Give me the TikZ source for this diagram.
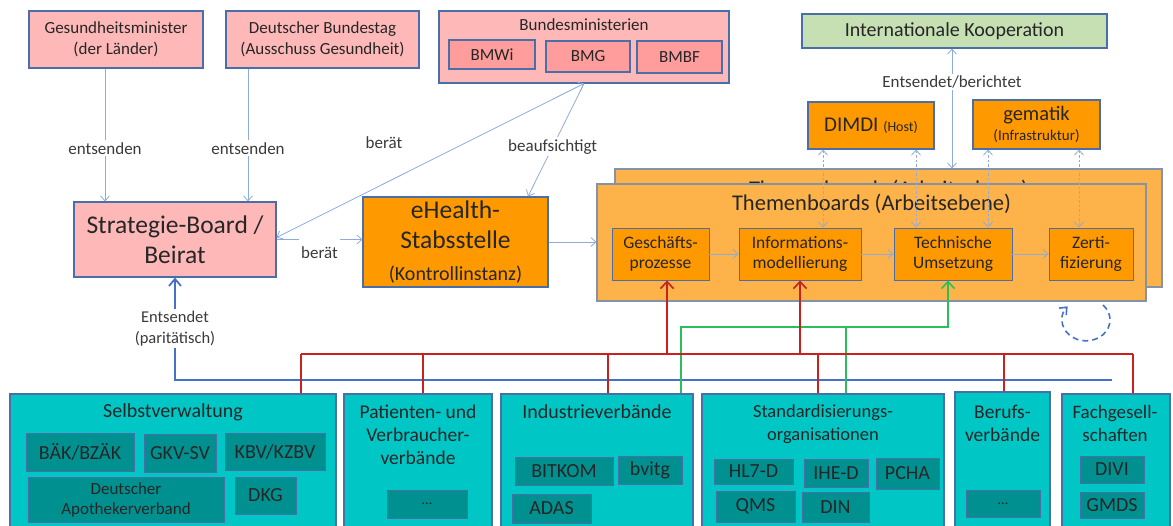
\documentclass[tikz,border=0pt]{standalone}
\usepackage{fontspec}
\setmainfont{Carlito}
\usetikzlibrary{arrows.meta}

\definecolor{rosa}{HTML}{FFB8B8}
\definecolor{rosadunkel}{HTML}{FF9C9C}
\definecolor{rahmen}{HTML}{4A6EA8}
\definecolor{orangeA}{HTML}{FF9900}
\definecolor{tbfill}{HTML}{FDB34A}
\definecolor{tbrahmen}{HTML}{8593A8}
\definecolor{gruenfill}{HTML}{C6E0B4}
\definecolor{tuerkis}{HTML}{00C6C6}
\definecolor{tuerkisdunkel}{HTML}{009090}
\definecolor{linie}{HTML}{8FAADC}
\definecolor{blaulinie}{HTML}{4472C4}
\definecolor{rotlinie}{HTML}{C9211E}
\definecolor{gruenlinie}{HTML}{2DBE5C}
\definecolor{schrift}{HTML}{262626}
\definecolor{grauschrift}{HTML}{3A3A3A}

\tikzset{
  fs/.style 2 args={font=\fontsize{#1}{#2}\selectfont},
  gr/.style 2 args={minimum width=#1, minimum height=#2},
  kasten/.style={draw=rahmen, line width=1.1pt, align=center, inner sep=0pt, text=schrift},
  rosakasten/.style={kasten, fill=rosa},
  rosainnen/.style={kasten, fill=rosadunkel, fs={17}{20}},
  orakasten/.style={kasten, fill=orangeA},
  tbkasten/.style={kasten, draw=tbrahmen, fill=tbfill},
  tuerkiskasten/.style={kasten, fill=tuerkis},
  tuerkisinnen/.style={kasten, line width=0.9pt, fill=tuerkisdunkel, fs={20}{23}},
  titel/.style={align=center, text=schrift, inner sep=1pt},
  lbl/.style={fill=white, text=grauschrift, fs={17}{21}, inner sep=2pt, align=center},
  duenn/.style={draw=linie, line width=0.8pt, >={Straight Barb[length=5pt,width=9pt]}},
  gestrichelt/.style={duenn, dash pattern=on 2.5pt off 2pt},
  dick/.style={draw=blaulinie, line width=1.8pt, >={Straight Barb[length=7pt,width=12pt]}},
  rot/.style={draw=rotlinie, line width=1.6pt, >={Straight Barb[length=7pt,width=13pt]}},
  gruen/.style={draw=gruenlinie, line width=1.6pt, >={Straight Barb[length=7pt,width=13pt]}},
  schleifenlinie/.style={draw=blaulinie, line width=1.6pt, dash pattern=on 6pt off 4pt, >={Straight Barb[length=6pt,width=10pt]}}
}

\begin{document}
\begin{tikzpicture}[x=1pt,y=-1pt]
\useasboundingbox (0,0) rectangle (1173,526);

% Bund und Laender
\node[rosakasten, gr={174}{57}, fs={17}{21}] (gesmin) at (116,39.5) {Gesundheitsminister\\(der Länder)};
\node[rosakasten, gr={193}{57}, fs={17}{21}] (bundestag) at (322.5,39.5) {Deutscher Bundestag\\(Ausschuss Gesundheit)};
\node[rosakasten, gr={290}{72}] (bmin) at (584,47) {};
\node[titel, fs={17}{20}] (bminT) at (584,25) {Bundesministerien};
\node[rosainnen, gr={86}{29}] (bmwi) at (492,54.5) {BMWi};
\node[rosainnen, gr={84}{31}] (bmg) at (588,56.5) {BMG};
\node[rosainnen, gr={85}{32}] (bmbf) at (679.5,57) {BMBF};

% international, DIMDI, gematik
\node[kasten, fill=gruenfill, gr={305}{34}, fs={20}{23}] (intkoop) at (954.5,31) {Internationale Kooperation};
\node[orakasten, gr={126}{47}, fs={21}{24}] (dimdi) at (871,125.5) {DIMDI {\fontsize{14}{16}\selectfont(Host)}};
\node[orakasten, gr={127}{49}, fs={20.5}{21}] (gematik) at (1036.5,124.5) {gematik\\[-1pt]{\fontsize{15}{17}\selectfont(Infrastruktur)}};

% Steuerung
\node[rosakasten, gr={202}{75}, fs={25.5}{30}] (strat) at (175,239.5) {Strategie-Board /\\Beirat};
\node[orakasten, gr={185}{90}, fs={25.5}{30}] (ehealth) at (455.5,242) {eHealth-\\Stabsstelle\\[2pt]{\fontsize{20}{22}\selectfont(Kontrollinstanz)}};

% Themenboards (zwei Ebenen)
\node[tbkasten, gr={547}{118}] (tbback) at (888.5,228) {};
\node[titel, fs={22.5}{26}] (tbbackT) at (888.5,190) {Themenboards (Arbeitsebene)};
\node[tbkasten, gr={549}{117}] (tbfront) at (871.5,242.5) {};
\node[titel, fs={22.5}{26}] (tbfrontT) at (871.5,204) {Themenboards (Arbeitsebene)};
\node[orakasten, line width=0.9pt, gr={97}{52}, fs={17.5}{20.5}] (geschaeft) at (660.5,254) {Geschäfts-\\prozesse};
\node[orakasten, line width=0.9pt, gr={122}{52}, fs={17.5}{20.5}] (infomod) at (800,254) {Informations-\\modellierung};
\node[orakasten, line width=0.9pt, gr={118}{52}, fs={17.5}{20.5}] (technik) at (953,254) {Technische\\Umsetzung};
\node[orakasten, line width=0.9pt, gr={84}{52}, fs={17.5}{20.5}] (zerti) at (1091,254) {Zerti-\\fizierung};

% Verbaende unten
\node[tuerkiskasten, gr={326}{134}] (selbst) at (173,461) {};
\node[titel, fs={20}{23}] (selbstT) at (173,412) {Selbstverwaltung};
\node[tuerkisinnen, gr={108}{38}] (baek) at (80,452) {BÄK/BZÄK};
\node[tuerkisinnen, gr={72}{38}] (gkv) at (180,453) {GKV-SV};
\node[tuerkisinnen, gr={100}{37}] (kbv) at (275,451.5) {KBV/KZBV};
\node[tuerkisinnen, gr={196}{45}, fs={17}{20}] (dav) at (126,499.5) {Deutscher\\Apothekerverband};
\node[tuerkisinnen, gr={61}{37}] (dkg) at (265.5,495.5) {DKG};

\node[tuerkiskasten, gr={148}{134}] (patient) at (418,461) {};
\node[titel, fs={19.5}{23}] (patientT) at (418,435) {Patienten- und\\Verbraucher-\\verbände};
\node[tuerkisinnen, gr={80}{28}, fs={14}{16}] (patientP) at (427,504) {...};

\node[tuerkiskasten, gr={192}{134}] (industrie) at (597,461) {};
\node[titel, fs={20}{23}] (industrieT) at (597,412) {Industrieverbände};
\node[tuerkisinnen, gr={98}{28}] (bitkom) at (564,471) {BITKOM};
\node[tuerkisinnen, gr={64}{28}] (bvitg) at (650,470) {bvitg};
\node[tuerkisinnen, gr={79}{29}] (adas) at (551.5,508.5) {ADAS};

\node[tuerkiskasten, gr={242}{134}] (standard) at (823,461) {};
\node[titel, fs={18.5}{23}] (standardT) at (823,424.5) {Standardisierungs-\\organisationen};
\node[tuerkisinnen, gr={79}{25}] (hl7) at (753.5,471.5) {HL7-D};
\node[tuerkisinnen, gr={64}{28}] (ihe) at (836,473) {IHE-D};
\node[tuerkisinnen, gr={63}{31}] (pcha) at (907.5,473.5) {PCHA};
\node[tuerkisinnen, gr={79}{31}] (qms) at (755.5,506.5) {QMS};
\node[tuerkisinnen, gr={67}{30}] (din) at (835.5,507) {DIN};

\node[tuerkiskasten, gr={95}{136}] (beruf) at (1002.5,460) {};
\node[titel, fs={19.5}{23}] (berufT) at (1002.5,423.5) {Berufs-\\verbände};
\node[tuerkisinnen, gr={74}{27}, fs={14}{16}] (berufP) at (1003,503.5) {...};

\node[tuerkiskasten, gr={108}{134}] (fach) at (1116,461) {};
\node[titel, fs={19}{23}] (fachT) at (1115,423.5) {Fachgesell-\\schaften};
\node[tuerkisinnen, gr={64}{27}] (divi) at (1112,469.5) {DIVI};
\node[tuerkisinnen, gr={64}{26}] (gmds) at (1112,505) {GMDS};

% Verbindungen oben
\draw[duenn,->] ([xshift=-11]gesmin.south) -- node[lbl,pos=0.6]{entsenden} ([xshift=-11]gesmin.south |- strat.north);
\draw[duenn,->] ([xshift=-74.5]bundestag.south) -- node[lbl,pos=0.6]{entsenden} ([xshift=-74.5]bundestag.south |- strat.north);
\draw[duenn,<->] (bmin.south) -- ([yshift=2]strat.east);
\node[lbl] (beraet) at (384,143) {berät};
\draw[duenn,->] (bmin.south) -- node[lbl,pos=0.56]{beaufsichtigt} ([xshift=72.5]ehealth.north);
\draw[duenn,->] (strat.east) -- node[lbl, inner ysep=12pt, yshift=-13pt]{berät} (strat.east -| ehealth.west);
\draw[duenn,->] (ehealth.east) -- (ehealth.east -| tbfront.west);
\draw[duenn,<->] ([xshift=-2.5]intkoop.south) -- node[lbl,pos=0.28]{Entsendet/berichtet} ([xshift=-2.5]intkoop.south |- tbback.north);

% DIMDI und gematik zu den Themen
\draw[gestrichelt,<->] ([xshift=-48]dimdi.south) -- ([xshift=-48]dimdi.south |- infomod.north);
\draw[gestrichelt,<->] ([xshift=45]dimdi.south) -- ([xshift=45]dimdi.south |- technik.north);
\draw[gestrichelt,<->] ([xshift=-48.5]gematik.south) -- ([xshift=-48.5]gematik.south |- technik.north);
\draw[gestrichelt,<->] ([xshift=42.5]gematik.south) -- ([xshift=42.5]gematik.south |- zerti.north);

% Ablauf im Themenboard
\draw[duenn,->] (geschaeft.east) -- (infomod.west);
\draw[duenn,->] (infomod.east) -- (technik.west);
\draw[duenn,->] (technik.east) -- (zerti.west);
\coordinate (schleife) at (1103,305);
\draw[schleifenlinie,->] (schleife) arc[start angle=-45, end angle=220, x radius=24, y radius=21]; % Wiederholung

% Busleitungen unten
\coordinate (bb) at (0,380);
\coordinate (bbend) at (1112,380);
\coordinate (rb) at (0,354);
\coordinate (gb) at (0,327);
\draw[dick,<-] (strat.south) -- node[lbl, fs={16.5}{21}]{Entsendet\\(paritätisch)} (strat.south |- bb) -- (bbend);
\draw[gruen,->] ([xshift=84]industrie.north) -- ([xshift=84]industrie.north |- gb) -| ([xshift=-5]technik.south);
\draw[gruen] ([xshift=23]standard.north) -- ([xshift=23]standard.north |- gb);
\draw[rot] ([xshift=128]selbst.north |- rb) -- ([xshift=17]fach.north |- rb);
\foreach \n/\s in {selbst/128,patient/5,industrie/11,standard/-5,beruf/1.5,fach/17}
  \draw[rot] ([xshift=\s]\n.north) -- ([xshift=\s]\n.north |- rb);
\draw[rot,->] ([xshift=6.5]geschaeft.south |- rb) -- ([xshift=6.5]geschaeft.south);
\draw[rot,->] (infomod.south |- rb) -- (infomod.south);
\end{tikzpicture}
\end{document}
